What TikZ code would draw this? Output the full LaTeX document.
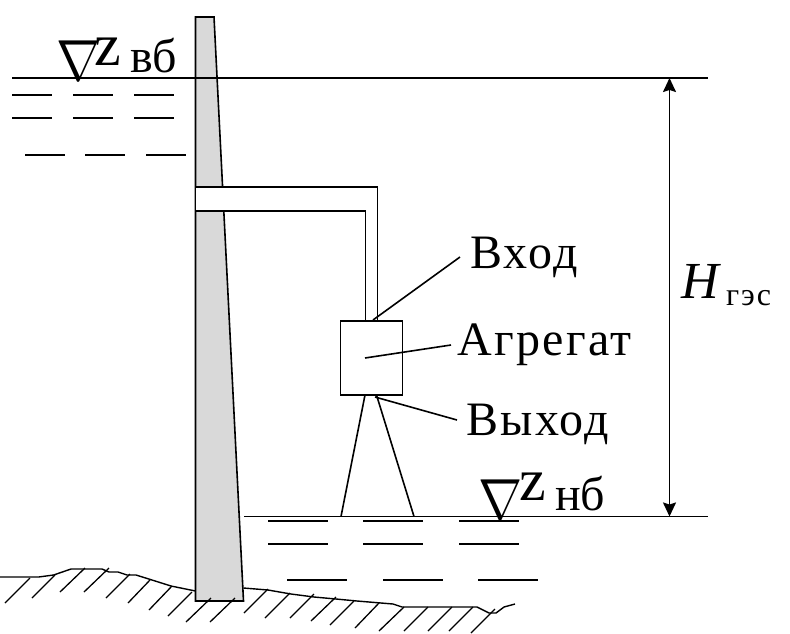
\documentclass[tikz,border=0pt]{standalone}
\usepackage{fontspec}
\setmainfont{Liberation Serif}
\usepackage{tikz}
\usetikzlibrary{arrows.meta}

\tikzset{
   contour/.style={draw=black, line width=1.6pt},
   leader/.style={draw=black, line width=1.6pt},
   ripple/.style={draw=black, line width=1.2pt},
   hatch/.style={draw=black, line width=1.3pt},
   label/.style={inner sep=0pt, anchor=base west,
      font=\fontsize{48}{48}\selectfont\addfontfeatures{LetterSpace=5}},
   levelsign/.style={inner sep=0pt, anchor=base west, xscale=5.3, yscale=5.8},
   levelz/.style={inner sep=0pt, anchor=base west, font=\fontsize{60}{60}\selectfont}
}

\begin{document}
\begin{tikzpicture}[x=1pt, y=-1pt]
      \useasboundingbox (0,0) rectangle (790,633);

      % water ripples
      \foreach \y in {95,118} {
         \foreach \x in {12,73,134} {
            \draw [ripple] (\x,\y) -- ++(39.5,0);
         }
      }
      \foreach \x in {25,85,146} {
         \draw [ripple] (\x,155) -- ++(39.5,0);
      }
      \foreach \y in {521,544} {
         \foreach \x in {268,363,459} {
            \draw [ripple] (\x,\y) -- ++(60,0);
         }
      }
      \foreach \x in {287,383,478} {
         \draw [ripple] (\x,580) -- ++(60,0);
      }

      % dam
      \draw [contour, fill=black!15] (195.5,17) -- (214,17) -- (243.5,601)
         -- (195.5,601) -- cycle;

      % ground
      \draw [contour, line width=1.4pt] (0,577) -- (38.6,577) -- (53.6,575) -- (71,569)
         -- (102,569) -- (109,572) -- (118,572) -- (127,575) -- (136,575)
         -- (152,580) -- (171,586) -- (195.5,591);
      \draw [contour, line width=1.4pt] (243.5,588) -- (268,590) -- (291,594) -- (314,597)
         -- (336,599) -- (357,601) -- (393,604) -- (402,607) -- (477,607)
         -- (489,613) -- (496,613) -- (504,607) -- (515,604);
      \foreach \xa/\ya/\xb/\yb in {
         5/603/30/578, 32/598/55/575, 60/592/85/568, 84/592/109/568,
         106/598/130/574, 128/603/150/580, 149/610/172/586, 168/616/192/592,
         186/622/211/598, 210/622/235/598, 244/613/268/589, 265/618/290/593,
         290/618/314/594, 311/621/336/597, 330/625/354/601, 355/628/379/603,
         379/631/404/607, 404/631/428/607, 428/631/452/607, 449/631/473/607,
         471/633/495/609} {
         \draw [hatch] (\xa,\ya) -- (\xb,\yb);
      }

      % penstock
      \draw [contour, fill=white] (195.5,187) -- (377.5,187) -- (377.5,321)
         -- (365.5,321) -- (365.5,211) -- (195.5,211) -- cycle;

      % unit and draft tube
      \node (unit) at (371.5,358) [draw=black, line width=1.6pt, fill=white,
         minimum width=62pt, minimum height=74pt, inner sep=0pt] {};
      \coordinate (tubeL) at (365,395);
      \coordinate (tubeR) at (376.5,395);
      \coordinate (tubeBL) at (341,516.5);
      \coordinate (tubeBR) at (414,516.5);
      \draw [contour] (tubeL) -- (tubeBL);
      \draw [contour] (tubeR) -- (tubeBR);

      % water levels
      \coordinate (upA) at (12,78);
      \coordinate (upB) at (708,78);
      \coordinate (lowA) at (244,516.5);
      \coordinate (lowB) at (708,516.5);
      \draw [contour] (upA) -- (upB);
      \draw [contour] (lowA) -- (lowB);

      % head
      \coordinate (headT) at (669.5,78);
      \coordinate (headB) at (669.5,516.5);
      \draw [contour, {Stealth[length=14pt,width=13pt,inset=2pt]}-{Stealth[length=14pt,width=13pt,inset=2pt]}]
         (headT) -- (headB);

      % labels
      \node (nablaUp) at (55.6,80) [levelsign] {\makebox[0.7em][l]{$\nabla$}};
      \node (zUp) at (94,65) [levelz] {z};
      \node (vb) at (130,72) [label, font=\fontsize{48}{48}\selectfont] {вб};
      \node (nablaLow) at (477.6,519) [levelsign] {\makebox[0.7em][l]{$\nabla$}};
      \node (zLow) at (519,500) [levelz] {z};
      \node (nb) at (555,510) [label, font=\fontsize{48}{48}\selectfont] {нб};
      \node (head) at (681,298) [label, font=\fontsize{52}{52}\selectfont\itshape] {H};
      \node (ges) at (726,305) [label, font=\fontsize{32}{32}\selectfont\addfontfeatures{LetterSpace=6}] {гэс};
      \node (inlet) at (470,268) [label] {Вход};
      \node (agg) at (457,355) [label] {Агрегат};
      \node (outlet) at (466,435) [label] {Выход};

      % leaders
      \coordinate (inletA) at (373,320);
      \coordinate (inletB) at (460,257);
      \coordinate (aggA) at (365,358);
      \coordinate (aggB) at (451,345);
      \coordinate (outletA) at (375,397);
      \coordinate (outletB) at (457,420);
      \draw [leader] (inletA) -- (inletB);
      \draw [leader] (aggA) -- (aggB);
      \draw [leader] (outletA) -- (outletB);
   \end{tikzpicture}
\end{document}
